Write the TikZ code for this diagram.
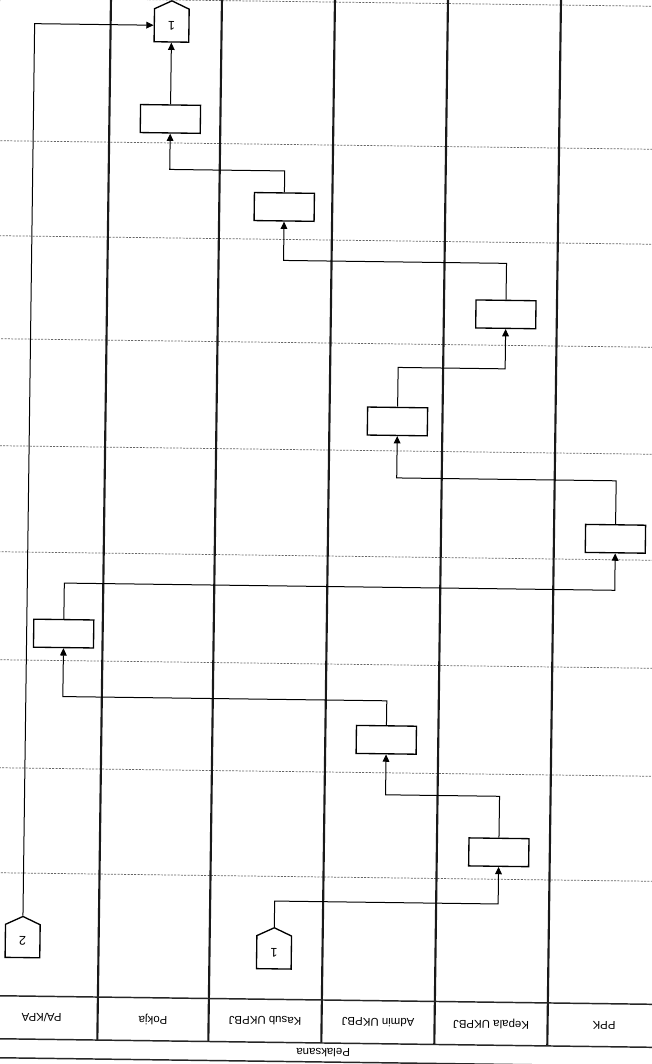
\documentclass[tikz,border=0pt]{standalone}
\usepackage{fontspec}
\setmainfont{Liberation Sans}
\usepackage{graphicx}
\usetikzlibrary{shapes.symbols,arrows.meta}
\newcommand{\upsd}[1]{\rotatebox[origin=c]{180}{#1}}
\begin{document}
\begin{tikzpicture}[x=0.75pt,y=-0.75pt,
  lane/.style={line width=1.6pt, black!90},
  rowline/.style={line width=1.1pt, black!85},
  grid/.style={black!60, line width=0.55pt, dash pattern=on 1.5pt off 1pt},
  task/.style={draw, line width=1pt, minimum width=45pt, minimum height=21pt, inner sep=0pt},
  offpage/.style={draw, line width=1pt, shape=signal, signal to=north, signal from=nowhere,
     signal pointer angle=130, minimum width=26pt, minimum height=26pt, inner sep=0pt,
     font=\fontsize{9.5}{10}\selectfont},
  conn/.style={line width=0.75pt, -{Triangle[length=5.5pt,width=5pt]}},
  head/.style={font=\fontsize{8.6}{10}\selectfont, inner sep=0pt}
]
\path[use as bounding box, fill=white] (0,0) rectangle (652,1064);
\begin{scope}[rotate around={-0.75:(326,532)}, transform shape]
  % horizontal dotted grid
  \foreach \y in {2,145,240,343,450,556,664,772,877}
    \draw[grid] (-8,\y) -- (667,\y);
  % lane separators
  \foreach \x in {-8,104,215,328,441,554,667}
    \draw[lane] (\x,-20) -- (\x,1043);
  % header rows
  \draw[rowline] (-8,1000) -- (667,1000);
  \draw[rowline] (-8,1043) -- (667,1043);
  \draw[rowline] (-8,1062) -- (667,1062);
  \node[head] (h1) at (48,1021.5) {\upsd{PA/KPA}};
  \node[head] (h2) at (159.5,1021.5) {\upsd{Pokja}};
  \node[head] (h3) at (271.5,1021.5) {\upsd{Kasub UKPBJ}};
  \node[head] (h4) at (384.5,1021.5) {\upsd{Admin UKPBJ}};
  \node[head] (h5) at (497.5,1021.5) {\upsd{Kepala UKPBJ}};
  \node[head] (h6) at (610.5,1021.5) {\upsd{PPK}};
  \node[head] (h0) at (330,1052.5) {\upsd{Pelaksana}};
  % nodes
  \node[offpage] (c1) at (165,27.5) {\upsd{1}};
  \node[task] (pk) at (165,121) {};
  \node[task] (ks) at (280,207.5) {};
  \node[task] (kp1) at (503,312) {};
  \node[task] (ad1) at (396,420.5) {};
  \node[task] (ppk) at (615.5,535) {};
  \node[task] (pa) at (65,637) {};
  \node[task] (ad2) at (389,739) {};
  \node[task] (kp2) at (503,850) {};
  \node[offpage] (c1b) at (279.5,953) {\upsd{1}};
  \node[offpage] (c2) at (28,945) {\upsd{2}};
  % connectors
  \draw[conn] (pk.north) -- (c1.south);
  \draw[conn] (c2.north) -- (28,27.5) -- (c1.west);
  \draw[conn] (ks.north) -- (280,171.5) -- (165,171.5) -- (pk.south);
  \draw[conn] (kp1.north) -- (503,261) -- (280,261) -- (ks.south);
  \draw[conn] (ad1.north) -- (396,366.5) -- (503,366.5) -- (kp1.south);
  \draw[conn] (ppk.north) -- (615.5,477) -- (396,477) -- (ad1.south);
  \draw[conn] (pa.north) -- (65,586.5) -- (615.5,586.5) -- (ppk.south);
  \draw[conn] (ad2.north) -- (389,700) -- (65,700) -- (pa.south);
  \draw[conn] (kp2.north) -- (503,794) -- (389,794) -- (ad2.south);
  \draw[conn] (c1b.north) -- (279.5,901.7) -- (503,901.7) -- (kp2.south);
\end{scope}
\end{tikzpicture}
\end{document}
